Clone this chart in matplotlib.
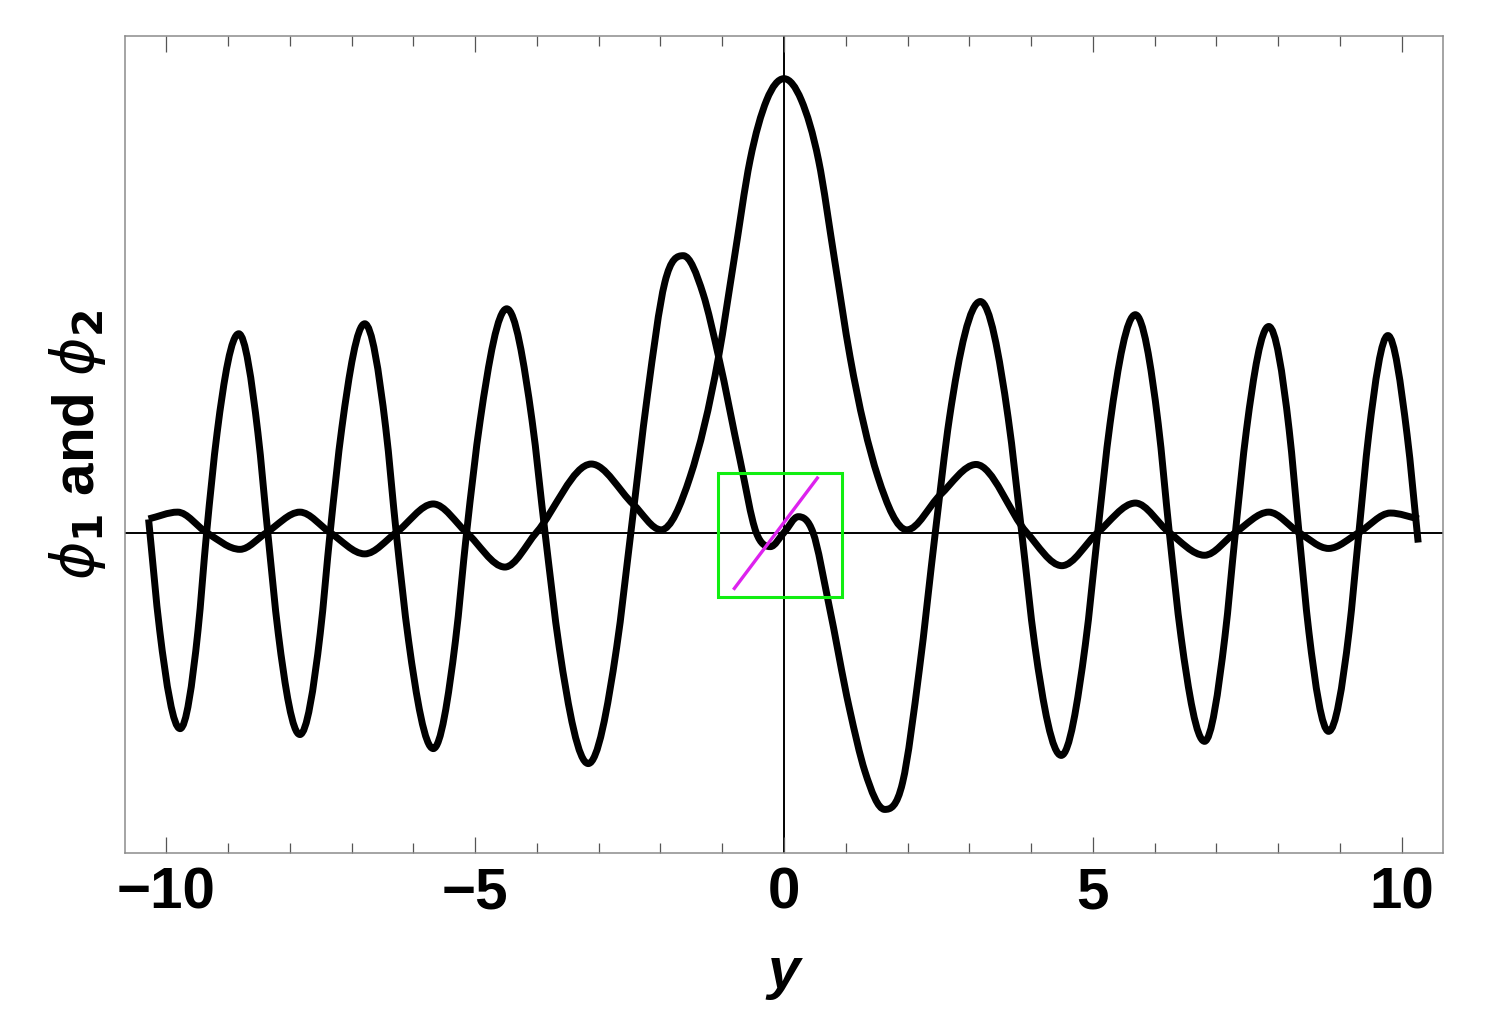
import numpy as np
import matplotlib
matplotlib.use("Agg")
import matplotlib.pyplot as plt
from matplotlib.path import Path
from matplotlib.patches import PathPatch, Rectangle

# curve points (y scaled so the central peak is 1)
phi1_x = [-10.29, -9.82, -9.35, -8.81, -8.38, -7.84, -7.35, -6.79, -6.28, -5.68,
          -5.14, -4.52, -4.01, -3.12, -2.44, -1.99, -1.52, -1.06, -0.81, -0.55,
          -0.28, 0.0, 0.28, 0.56, 0.82, 1.07, 1.52, 1.99, 2.53, 3.11,
          3.93, 4.50, 5.08, 5.69, 6.24, 6.81, 7.31, 7.85, 8.34, 8.82,
          9.31, 9.82, 10.28]
phi1_y = [0.030, 0.045, 0.0, -0.037, 0.0, 0.045, 0.0, -0.047, 0.0, 0.063,
          0.0, -0.076, 0.0, 0.151, 0.062, 0.006, 0.123, 0.387, 0.600, 0.820,
          0.953, 1.0, 0.953, 0.820, 0.600, 0.387, 0.123, 0.006, 0.083, 0.150,
          0.0, -0.073, 0.0, 0.065, 0.0, -0.050, 0.0, 0.045, 0.0, -0.035,
          0.0, 0.043, 0.030]

phi2_x = [-10.29, -10.11, -9.78, -9.49, -9.35, -9.18, -8.83, -8.52, -8.36, -8.19,
          -7.84, -7.51, -7.35, -7.16, -6.79, -6.45, -6.28, -6.08, -5.68, -5.32,
          -5.14, -4.92, -4.49, -4.08, -3.87, -3.64, -3.17, -2.71, -2.48, -2.21,
          -1.93, -1.63, -1.31, -1.06, -0.71, -0.45, -0.22, 0.0, 0.23, 0.47,
          0.72, 1.06, 1.31, 1.63, 1.92, 2.19, 2.45, 2.68, 3.18, 3.63,
          3.85, 4.06, 4.49, 4.88, 5.08, 5.28, 5.69, 6.06, 6.24, 6.43,
          6.81, 7.14, 7.31, 7.49, 7.85, 8.18, 8.34, 8.50, 8.82, 9.15,
          9.31, 9.47, 9.78, 10.09, 10.27]
phi2_y = [0.029, -0.216, -0.432, -0.216, 0.0, 0.220, 0.438, 0.220, 0.0, -0.222,
          -0.445, -0.222, 0.0, 0.231, 0.460, 0.231, 0.0, -0.238, -0.476, -0.238,
          0.0, 0.247, 0.493, 0.247, 0.0, -0.253, -0.509, -0.253, 0.0, 0.304,
          0.551, 0.610, 0.526, 0.388, 0.159, 0.0, -0.031, 0.0, 0.035, 0.0,
          -0.154, -0.388, -0.526, -0.610, -0.551, -0.304, 0.0, 0.253, 0.509, 0.253,
          0.0, -0.247, -0.491, -0.247, 0.0, 0.240, 0.480, 0.240, 0.0, -0.230,
          -0.460, -0.230, 0.0, 0.227, 0.454, 0.227, 0.0, -0.219, -0.438, -0.219,
          0.0, 0.217, 0.434, 0.216, -0.022]

# green box and magenta segment
box_x = [-1.065, 0.935]
box_y = [-0.1425, 0.1315]
seg_x = [-0.82, 0.556]
seg_y = [-0.126, 0.123]

xmin, xmax = -10.672, 10.672
ymin, ymax = -0.706, 1.094


def smooth_path(xs, ys):
    # cubic bezier through the points, flat at the turning points
    x = np.asarray(xs, float)
    y = np.asarray(ys, float)
    h = np.diff(x)
    d = np.diff(y) / h
    m = np.zeros_like(x)
    m[0] = d[0]
    m[-1] = d[-1]
    for i in range(1, len(x) - 1):
        if d[i - 1] * d[i] > 0:
            m[i] = (h[i] * d[i - 1] + h[i - 1] * d[i]) / (h[i - 1] + h[i])
    verts = [(x[0], y[0])]
    codes = [Path.MOVETO]
    for i in range(len(h)):
        verts += [(x[i] + h[i] / 3, y[i] + m[i] * h[i] / 3),
                  (x[i + 1] - h[i] / 3, y[i + 1] - m[i + 1] * h[i] / 3),
                  (x[i + 1], y[i + 1])]
        codes += [Path.CURVE4] * 3
    return Path(verts, codes)


fig = plt.figure(figsize=(15.07, 10.27), dpi=100)
ax = fig.add_axes([125 / 1507, (1027 - 853) / 1027, 1318 / 1507, 817 / 1027])

ax.axhline(0, color="black", lw=1.4, zorder=1)
ax.axvline(0, color="black", lw=1.4, zorder=1)

for xs, ys in [(phi1_x, phi1_y), (phi2_x, phi2_y)]:
    ax.add_patch(PathPatch(smooth_path(xs, ys), fill=False, edgecolor="black",
                           lw=5, capstyle="butt", joinstyle="round", zorder=3))

ax.add_patch(Rectangle((box_x[0], box_y[0]), box_x[1] - box_x[0], box_y[1] - box_y[0],
                       fill=False, edgecolor="#11ee11", lw=2.2, zorder=4))
ax.plot(seg_x, seg_y, color="#dd22ee", lw=2.4, zorder=5, solid_capstyle="butt")

ax.set_xlim(xmin, xmax)
ax.set_ylim(ymin, ymax)

for s in ax.spines.values():
    s.set_color("#8c8c8c")
    s.set_linewidth(1.1)

ax.set_xticks([-10, -5, 0, 5, 10])
ax.set_xticks(range(-10, 11), minor=True)
ax.set_xticklabels(["\u221210", "\u22125", "0", "5", "10"])
ax.set_yticks([])
ax.tick_params(axis="x", which="both", direction="in", top=True, bottom=True,
               color="#555555", width=0.9, pad=10)
ax.tick_params(axis="x", which="major", length=11.5)
ax.tick_params(axis="x", which="minor", length=7)
for lab in ax.get_xticklabels():
    lab.set_fontfamily("Liberation Sans")
    lab.set_fontweight("bold")
    lab.set_fontsize(42)

plt.rcParams["mathtext.fontset"] = "custom"
plt.rcParams["mathtext.it"] = "DejaVu Sans:italic:bold"
plt.rcParams["mathtext.rm"] = "Liberation Sans:bold"
plt.rcParams["mathtext.bf"] = "Liberation Sans:bold"

ax.set_xlabel("y", fontfamily="Liberation Sans", fontweight="bold",
              fontstyle="italic", fontsize=42, labelpad=18)
ax.set_ylabel(r"$\phi_{\mathbf{1}}$ and $\phi_{\mathbf{2}}$", fontfamily="Liberation Sans",
              fontweight="bold", fontsize=42, labelpad=12)

fig.savefig("out.png", dpi=100)
